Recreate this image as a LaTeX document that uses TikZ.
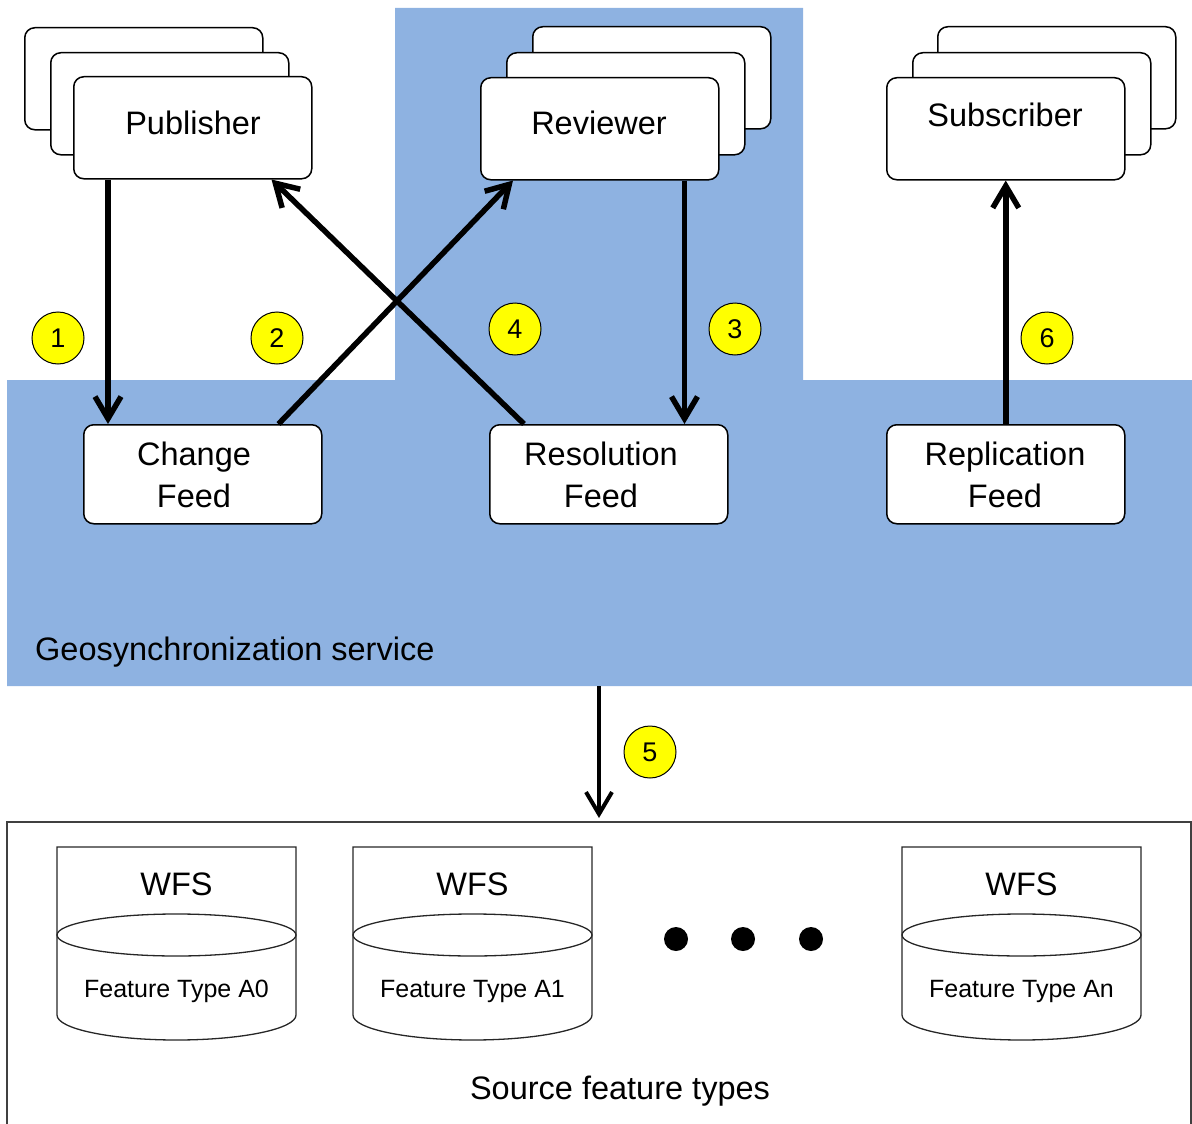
\documentclass[tikz,border=0pt]{standalone}
\usepackage{fontspec}
\setmainfont{Liberation Sans}
\usetikzlibrary{arrows.meta,calc}
\definecolor{svcblue}{RGB}{142,178,225}
\definecolor{badgeyellow}{RGB}{255,255,0}
\newcommand\labelsize{\fontsize{32.5}{38}\selectfont}
\newcommand\smallsize{\fontsize{25}{30}\selectfont}
\newcommand\numsize{\fontsize{27}{32}\selectfont}

\begin{document}
\begin{tikzpicture}[x=1pt,y=-1pt,
  card/.style={draw=black,line width=1.5pt,fill=white,rounded corners=10pt,
    minimum width=238pt,minimum height=102pt,inner sep=0pt,anchor=north west},
  feedbox/.style={draw=black,line width=1.5pt,fill=white,rounded corners=10pt,
    minimum width=238pt,minimum height=99pt,inner sep=0pt,anchor=north west},
  txt/.style={inner sep=0pt,anchor=base,font=\labelsize},
  flow/.style={line width=5.5pt,-{Straight Barb[length=22pt,width=26pt]}},
  badge/.style={circle,draw=black,line width=1pt,fill=badgeyellow,
    minimum size=52pt,inner sep=0pt,font=\numsize},
  cyl/.style={draw=black!85,line width=1.3pt},
  dot/.style={circle,fill=black,minimum size=24pt,inner sep=0pt}
]
\useasboundingbox (0,0) rectangle (1192,1124);

% service area
\fill[svcblue] (7,380) -- (395,380) -- (395,8) -- (803,8) -- (803,380)
  -- (1192,380) -- (1192,686) -- (7,686) -- cycle;
\node[txt,anchor=base west] (svclabel) at (35,660) {Geosynchronization service};
\coordinate (svcout) at (599,686);

% source area
\draw[draw=black!75,line width=1.5pt] (7,1124) -- (7,822) -- (1191,822) -- (1191,1124);
\coordinate (srcin) at (599,818);
\node[txt] (srclabel) at (620,1099) {Source feature types};

% publisher stack
\node[card] (pubC) at (24,27) {};
\node[card] (pubB) at (50,52) {};
\node[card] (pub)  at (73,76) {};
\node[txt] (pubT) at (193,135) {Publisher};

% reviewer stack
\node[card] (revC) at (532,26) {};
\node[card] (revB) at (506,52) {};
\node[card] (rev)  at (480,77) {};
\node[txt] (revT) at (599,135) {Reviewer};

% subscriber stack
\node[card] (subC) at (937,26) {};
\node[card] (subB) at (912,52) {};
\node[card] (sub)  at (886,77) {};
\node[txt] (subT) at (1005,126) {Subscriber};

% feeds
\node[feedbox] (chg) at (83,424) {};
\node[txt] (chgA) at (194,465) {Change};
\node[txt] (chgB) at (194,507) {Feed};

\node[feedbox] (res) at (489,424) {};
\node[txt] (resA) at (601,465) {Resolution};
\node[txt] (resB) at (601,507) {Feed};

\node[feedbox] (rep) at (886,424) {};
\node[txt] (repA) at (1005,465) {Replication};
\node[txt] (repB) at (1005,507) {Feed};

% flows
\draw[flow] ([xshift=35pt]pub.south west) -- ([xshift=25pt]chg.north west);
\draw[flow] ([xshift=-44pt]chg.north east) -- ([xshift=33pt]rev.south west);
\draw[flow] ([xshift=35pt]res.north west) -- ([xshift=-41pt]pub.south east);
\draw[flow] ([xshift=-35pt]rev.south east) -- ([xshift=-44pt]res.north east);
\draw[flow] (rep.north) -- (sub.south);
\draw[line width=4pt,-{Straight Barb[length=22pt,width=26pt]}] (svcout) -- (srcin);

% step numbers
\node[badge] (n1) at (58,338) {1};
\node[badge] (n2) at (277,338) {2};
\node[badge] (n4) at (515,329) {4};
\node[badge] (n3) at (735,329) {3};
\node[badge] (n6) at (1047,338) {6};
\node[badge] (n5) at (650,752) {5};

% feature type stores
\foreach \cx/\lbl in {176.5/A0, 472.5/A1, 1021.5/An} {
  \draw[cyl] (\cx-119.5,1015) -- (\cx-119.5,847) -- (\cx+119.5,847) -- (\cx+119.5,1015)
    arc[start angle=0,end angle=-180,x radius=119.5pt,y radius=25pt];
  \draw[cyl] (\cx,935) ellipse[x radius=119.5pt,y radius=21pt];
  \node[txt] (wfs\lbl) at (\cx,895) {WFS};
  \node[txt,font=\smallsize] (ft\lbl) at (\cx,997) {Feature Type \lbl};
}

% ellipsis between stores
\node[dot] (d1) at (676,939) {};
\node[dot] (d2) at (743,939) {};
\node[dot] (d3) at (811,939) {};
\end{tikzpicture}
\end{document}
